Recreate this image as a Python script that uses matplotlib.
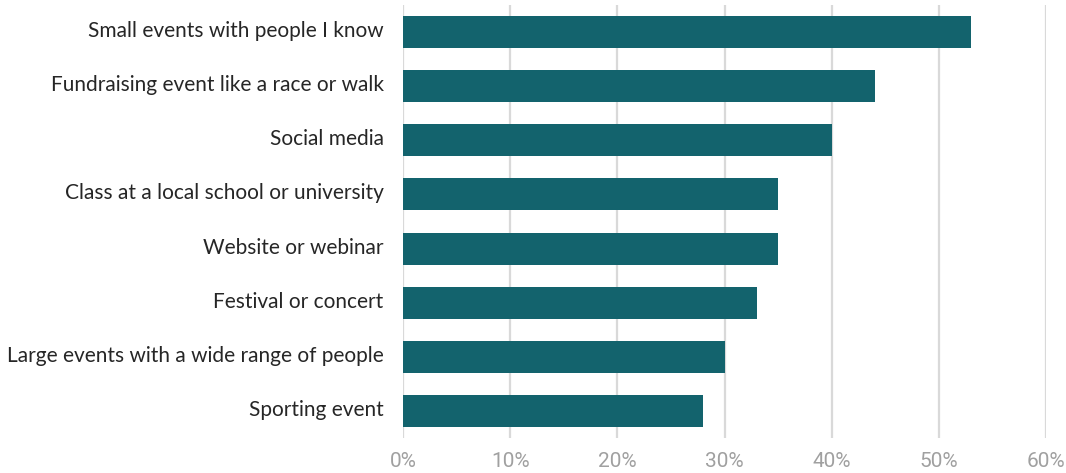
import matplotlib
matplotlib.use("Agg")
import matplotlib.pyplot as plt
from matplotlib.ticker import FuncFormatter, MultipleLocator
from matplotlib.transforms import ScaledTranslation

categories = [
    "Small events with people I know",
    "Fundraising event like a race or walk",
    "Social media",
    "Class at a local school or university",
    "Website or webinar",
    "Festival or concert",
    "Large events with a wide range of people",
    "Sporting event",
]
shares = [53, 44, 40, 35, 35, 33, 30, 28]

bar_color = "#13636D"
grid_color = "#D9D9D9"

fig = plt.figure(figsize=(10.66, 4.73), dpi=100)
ax = fig.add_axes([403 / 1066, 1 - 438 / 473, (1046 - 403) / 1066, (438 - 5) / 473])

pos = list(range(len(categories)))
ax.barh(pos, shares, height=0.59, color=bar_color, zorder=3)
ax.set_ylim(len(categories) - 0.5, -0.5)
ax.set_xlim(0, 60)

ax.xaxis.set_major_locator(MultipleLocator(10))
ax.xaxis.set_major_formatter(FuncFormatter(lambda v, _: f"{v:.0f}%"))
ax.tick_params(axis="x", labelsize=15, labelcolor="#A0A0A0", length=0, pad=10)
ax.tick_params(axis="y", length=0, pad=14)
for lbl in ax.get_xticklabels():
    lbl.set_family(["Roboto", "DejaVu Sans"])

ax.set_yticks(pos)
ax.set_yticklabels(categories, fontsize=15, family=["Lato", "DejaVu Sans"], color="#262626")
# nudge the category names slightly above the bar centres
shift_up = ScaledTranslation(0, 3 / 100, fig.dpi_scale_trans)
for lbl in ax.get_yticklabels():
    lbl.set_verticalalignment("center_baseline")
    lbl.set_transform(lbl.get_transform() + shift_up)

ax.grid(axis="x", color=grid_color, linewidth=1.6, zorder=0)
ax.grid(axis="y", visible=False)
for s in ax.spines.values():
    s.set_visible(False)

fig.savefig("out.png", dpi=100)
